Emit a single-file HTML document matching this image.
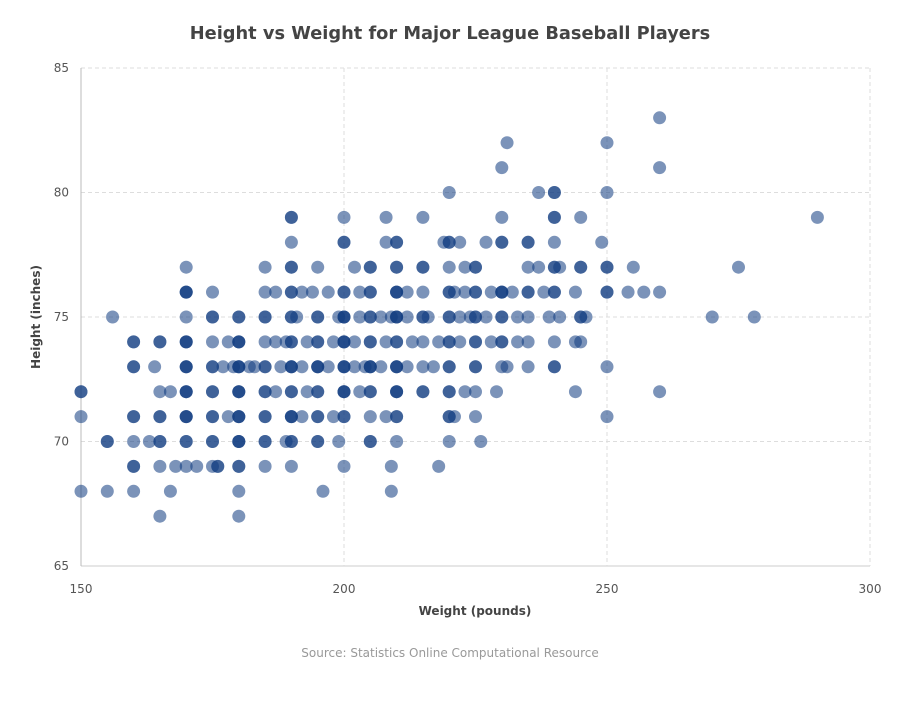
<!DOCTYPE html>
<html><head><meta charset="utf-8"><style>
body{margin:0;background:#fff;width:900px;height:700px;overflow:hidden;font-family:"DejaVu Sans","Liberation Sans",sans-serif}
</style></head><body>
<svg id="chart" width="900" height="700" xmlns="http://www.w3.org/2000/svg">
<text x="450" y="39" text-anchor="middle" font-size="17.8" font-weight="bold" fill="#444">Height vs Weight for Major League Baseball Players</text>
<g id="grid"></g>
<g id="ticks"></g>
<g id="points"></g>
<text x="475" y="615" text-anchor="middle" font-size="12" font-weight="bold" fill="#444">Weight (pounds)</text>
<text transform="translate(40,317) rotate(-90)" text-anchor="middle" font-size="12" font-weight="bold" fill="#444">Height (inches)</text>
<text x="450" y="657" text-anchor="middle" font-size="12" fill="#999">Source: Statistics Online Computational Resource</text>
</svg>
<script>
const xTicks=[150,200,250,300];
const yTicks=[65,70,75,80,85];
const rows=[
[83,[260]],
[82,[231,250]],
[81,[230,260]],
[80,[220,237,240,240,250]],
[79,[190,190,200,208,215,230,240,240,245,290]],
[78,[190,200,200,208,210,210,219,220,220,222,227,230,230,235,235,240,249]],
[77,[170,185,190,190,195,202,205,205,210,210,215,215,220,223,225,225,235,237,240,240,241,245,245,250,250,255,275]],
[76,[170,170,170,175,185,187,190,190,192,194,197,200,200,203,205,205,210,210,210,212,215,220,220,221,223,225,225,228,230,230,230,232,235,235,238,240,240,244,250,250,254,257,260]],
[75,[156,170,175,175,180,180,185,185,190,190,191,195,195,199,200,200,200,203,205,205,207,209,210,210,210,212,215,215,216,220,220,222,224,225,225,227,230,230,233,235,239,241,245,245,246,270,278]],
[74,[160,160,165,165,170,170,170,175,178,180,180,180,185,187,189,190,190,193,195,195,198,200,200,200,202,205,205,208,210,210,213,215,218,220,220,222,225,225,228,230,230,233,235,240,244,245]],
[73,[160,160,164,170,170,170,175,175,177,179,180,180,180,182,183,185,185,188,190,190,190,192,195,195,195,197,200,200,200,202,204,205,205,205,207,210,210,210,212,215,217,220,220,225,225,230,231,235,240,240,250]],
[72,[150,150,165,167,170,170,170,175,175,180,180,180,185,185,187,190,190,193,195,195,200,200,200,203,205,205,210,210,210,215,215,220,220,223,225,229,244,260]],
[71,[150,160,160,165,165,170,170,170,175,175,178,180,180,180,185,185,190,190,190,192,195,195,198,200,200,205,208,210,210,220,220,221,225,250]],
[70,[155,155,160,163,165,165,170,170,175,175,180,180,180,185,185,189,190,190,195,195,199,205,205,210,220,226]],
[69,[160,160,165,168,170,172,175,176,176,180,180,185,190,200,209,218]],
[68,[150,155,160,167,180,196,209]],
[67,[165,180]]
];
const L=81,R=870,T=68,B=566;
const xS=v=>L+(v-150)/(300-150)*(R-L);
const yS=v=>B-(v-65)/(85-65)*(B-T);
const NS='http://www.w3.org/2000/svg';
const grid=document.getElementById('grid'),ticks=document.getElementById('ticks'),pts=document.getElementById('points');
function mk(tag,attrs,parent){const e=document.createElementNS(NS,tag);for(const k in attrs)e.setAttribute(k,attrs[k]);parent.appendChild(e);return e;}
yTicks.forEach(v=>{
  const l=mk('line',{x1:L,x2:R,y1:yS(v),y2:yS(v),stroke:v===65?'#ccc':'#ddd','stroke-dasharray':v===65?'':'4,3'},grid);
  
  
  const t=mk('text',{x:L-12,y:yS(v)+4,'text-anchor':'end','font-size':12,fill:'#555'},ticks);
  t.textContent=v;
  
  
});
xTicks.forEach(v=>{
  const l=mk('line',{x1:xS(v),x2:xS(v),y1:T,y2:B,stroke:v===150?'#bbb':'#ddd','stroke-dasharray':v===150?'':'4,3'},grid);
  
  
  const t=mk('text',{x:xS(v),y:B+27,'text-anchor':'middle','font-size':12,fill:'#555'},ticks);
  t.textContent=v;
  
  
});
rows.forEach(([h,ws])=>{ws.forEach(w=>{
  const c=mk('circle',{cx:xS(w),cy:yS(h),r:6.5,fill:'#0f3b80','fill-opacity':0.55},pts);
  
  
});});
</script>
</body></html>
